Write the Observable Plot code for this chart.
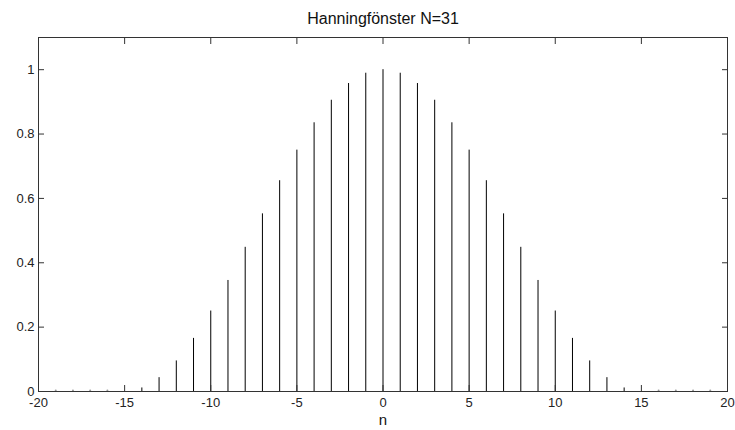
<!DOCTYPE html>
<html>
<head>
<meta charset="utf-8">
<script src="https://cdn.jsdelivr.net/npm/d3@7"></script>
<script src="https://cdn.jsdelivr.net/npm/@observablehq/plot@0.6"></script>
<style>
  html, body { margin: 0; padding: 0; background: #fff; }
  svg { display: block; }
</style>
</head>
<body>
<div id="chart"></div>
<script>
const title = "Hanningfönster N=31";
const xLabel = "n";
// window samples n = -15..15
const n = [-15,-14,-13,-12,-11,-10,-9,-8,-7,-6,-5,-4,-3,-2,-1,0,1,2,3,4,5,6,7,8,9,10,11,12,13,14,15];
const w = [0,0.011,0.043,0.095,0.165,0.25,0.345,0.448,0.552,0.655,0.75,0.835,0.905,0.957,0.989,1,0.989,0.957,0.905,0.835,0.75,0.655,0.552,0.448,0.345,0.25,0.165,0.095,0.043,0.011,0];
// zero samples outside window
const zeroN = [-19,-18,-17,-16,16,17,18,19];
const zeroV = [0,0,0,0,0,0,0,0];
const xTicks = [-20,-15,-10,-5,0,5,10,15,20];
const xTickLabels = ["-20","-15","-10","-5","0","5","10","15","20"];
const yTicks = [0,0.2,0.4,0.6,0.8,1];
const yTickLabels = ["0","0.2","0.4","0.6","0.8","1"];

const stems = n.map((v, i) => ({n: v, w: w[i]}));
const zeros = zeroN.map((v, i) => ({n: v, w: zeroV[i]}));
const font = "'Liberation Sans', Arial, Helvetica, sans-serif";

const chart = Plot.plot({
  width: 735,
  height: 430,
  marginLeft: 38,
  marginRight: 8,
  marginTop: 37,
  marginBottom: 39,
  style: {fontFamily: font, fontSize: "13px", color: "#222", background: "#fff"},
  x: {domain: [-20, 20]},
  y: {domain: [0, 1.1]},
  marks: [
    Plot.ruleX(stems, {x: "n", y1: 0, y2: "w", stroke: "#000", strokeWidth: 1}),
    Plot.line(stems, {x: "n", y: 0, stroke: "#333", strokeWidth: 1}),
    Plot.dot(zeros, {x: "n", y: "w", r: 1, fill: "#999", stroke: null, dy: -1}),
    Plot.frame({stroke: "#333", strokeWidth: 1}),
    // inward ticks
    Plot.axisX(xTicks, {anchor: "bottom", tickSize: -6, text: null, stroke: "#333", label: null}),
    Plot.axisX(xTicks, {anchor: "top", tickSize: -6, text: null, stroke: "#333", label: null}),
    Plot.axisY(yTicks, {anchor: "left", tickSize: -6, text: null, stroke: "#333", label: null}),
    Plot.axisY(yTicks, {anchor: "right", tickSize: -6, text: null, stroke: "#333", label: null}),
    // labels
    Plot.axisX(xTicks, {anchor: "bottom", tickSize: 0, tickPadding: 6, fontSize: 13, fill: "#222", label: null,
      tickFormat: (d) => xTickLabels[xTicks.indexOf(d)]}),
    Plot.axisY(yTicks, {anchor: "left", tickSize: 0, tickPadding: 4, fontSize: 13, fill: "#222", label: null,
      tickFormat: (d) => yTickLabels[yTicks.indexOf(d)]}),
    Plot.text([xLabel], {frameAnchor: "bottom", dy: 33, fontSize: 15, fill: "#111"}),
    Plot.text([title], {frameAnchor: "top", dy: -25, fontSize: 16, fill: "#111"})
  ]
});
document.getElementById("chart").appendChild(chart);
</script>
</body>
</html>
